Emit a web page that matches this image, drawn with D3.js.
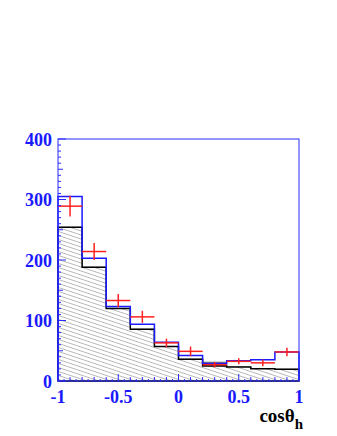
<!DOCTYPE html>
<html>
<head>
<meta charset="utf-8">
<script src="https://cdn.jsdelivr.net/npm/d3@7"></script>
<style>
  body { margin: 0; background: #fff; }
  svg { display: block; }
</style>
</head>
<body>
<div id="chart"></div>
<script>
// bin edges of cos(theta_h), 10 bins of 0.2
const binEdges = [-1, -0.8, -0.6, -0.4, -0.2, 0, 0.2, 0.4, 0.6, 0.8, 1];

// blue histogram (total expectation)
const blueHist = [305, 203, 123, 94, 64, 42, 29, 33.5, 35, 48];
// black hatched histogram (background)
const blackHist = [254, 188, 120, 85.5, 57, 36, 25, 23, 20.3, 19.3];
// grey band component (only visible where it sticks out above black)
const greyHist = [254, 188, 120, 85.5, 57, 36, 31, 23, 20.3, 19.3];
// red data points with errors
const dataVals = [289, 214, 133, 106, 63, 49, 27, 32.5, 30, 48];
const dataErrs = [17, 14, 11, 10, 7, 8, 4.5, 5, 5.5, 7];

const yTicks = [0, 100, 200, 300, 400];
const xTicks = [-1, -0.5, 0, 0.5, 1];
const xTickLabels = ["-1", "-0.5", "0", "0.5", "1"];

const width = 337, height = 436;
const margin = { left: 58, right: 38, top: 139, bottom: 55 };
const plotW = width - margin.left - margin.right;
const plotH = height - margin.top - margin.bottom;

const x = d3.scaleLinear().domain([-1, 1]).range([margin.left, margin.left + plotW]);
const y = d3.scaleLinear().domain([0, 400]).range([margin.top + plotH, margin.top]);

const svg = d3.select("#chart").append("svg")
  .attr("width", width)
  .attr("height", height);

// hatch pattern for the background histogram
const defs = svg.append("defs");
const pat = defs.append("pattern")
  .attr("id", "hatch")
  .attr("patternUnits", "userSpaceOnUse")
  .attr("width", 12)
  .attr("height", 4);
[-4, 0, 4].forEach(off => {
  pat.append("line")
    .attr("x1", 0).attr("y1", off)
    .attr("x2", 12).attr("y2", off + 4)
    .attr("stroke", "#999")
    .attr("stroke-width", 0.7);
});

// step path helper for a histogram
function stepPath(vals, closed) {
  let p = `M${x(binEdges[0])},${y(0)}`;
  vals.forEach((v, i) => {
    p += `L${x(binEdges[i])},${y(v)}L${x(binEdges[i + 1])},${y(v)}`;
  });
  p += `L${x(binEdges[binEdges.length - 1])},${y(0)}`;
  if (closed) p += "Z";
  return p;
}

// grey filled component, then hatched background on top
svg.append("path")
  .attr("d", stepPath(greyHist, true))
  .attr("fill", "#999")
  .attr("stroke", "#666")
  .attr("stroke-width", 1);

svg.append("path")
  .attr("d", stepPath(blackHist, true))
  .attr("fill", "#fff");
svg.append("path")
  .attr("d", stepPath(blackHist, true))
  .attr("fill", "url(#hatch)")
  .attr("stroke", "#000")
  .attr("stroke-width", 1.5);

// blue histogram
svg.append("path")
  .attr("d", stepPath(blueHist, false))
  .attr("fill", "none")
  .attr("stroke", "#1a1aff")
  .attr("stroke-width", 1.5);

// red data crosses
const pts = svg.append("g").attr("stroke", "#ff2020").attr("stroke-width", 1.5);
dataVals.forEach((v, i) => {
  const x0 = x(binEdges[i]), x1 = x(binEdges[i + 1]);
  const xc = (x0 + x1) / 2;
  pts.append("line")
    .attr("x1", x0).attr("x2", x1)
    .attr("y1", y(v)).attr("y2", y(v));
  pts.append("line")
    .attr("x1", xc).attr("x2", xc)
    .attr("y1", y(v - dataErrs[i])).attr("y2", y(v + dataErrs[i]));
});

// frame
const axisColor = "#2a2aff";
svg.append("rect")
  .attr("x", x(-1)).attr("y", y(400))
  .attr("width", x(1) - x(-1)).attr("height", y(0) - y(400))
  .attr("fill", "none")
  .attr("stroke", axisColor)
  .attr("stroke-width", 1);

// y ticks (inward)
const yt = svg.append("g").attr("stroke", axisColor).attr("stroke-width", 1);
d3.range(0, 401, 10).forEach(v => {
  const len = v % 100 === 0 ? 8 : (v % 50 === 0 ? 5 : 3);
  yt.append("line")
    .attr("x1", x(-1)).attr("x2", x(-1) + len)
    .attr("y1", y(v)).attr("y2", y(v));
});

// x ticks (upward)
const xt = svg.append("g").attr("stroke", axisColor).attr("stroke-width", 1);
d3.range(0, 41).forEach(k => {
  const v = -1 + k * 0.05;
  const len = k % 10 === 0 ? 7 : (k % 2 === 0 ? 4 : 2);
  xt.append("line")
    .attr("x1", x(v)).attr("x2", x(v))
    .attr("y1", y(0)).attr("y2", y(0) - len);
});

// tick labels
const labelFont = "'Liberation Serif', 'Times New Roman', serif";
svg.append("g").selectAll("text")
  .data(yTicks)
  .join("text")
  .attr("x", 52)
  .attr("y", d => y(d) + 6.5)
  .attr("text-anchor", "end")
  .attr("font-family", labelFont)
  .attr("font-weight", "bold")
  .attr("font-size", 18)
  .attr("fill", "#1a1aff")
  .text(d => d);

svg.append("g").selectAll("text")
  .data(xTicks)
  .join("text")
  .attr("x", d => x(d))
  .attr("y", 403)
  .attr("text-anchor", "middle")
  .attr("font-family", labelFont)
  .attr("font-weight", "bold")
  .attr("font-size", 18)
  .attr("fill", "#1a1aff")
  .text((d, i) => xTickLabels[i]);

// axis title
const title = svg.append("text")
  .attr("x", 303)
  .attr("y", 422)
  .attr("text-anchor", "end")
  .attr("font-family", labelFont)
  .attr("font-weight", "bold")
  .attr("font-size", 19)
  .attr("fill", "#000");
title.append("tspan").text("cosθ");
title.append("tspan").attr("dy", 7).attr("font-size", 15).text("h");
</script>
</body>
</html>
